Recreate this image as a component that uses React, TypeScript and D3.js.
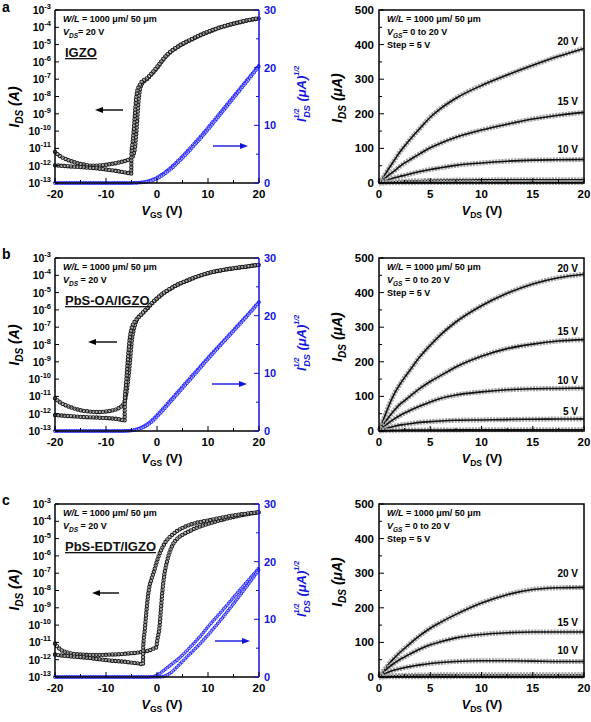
import React from "react";
import * as d3 from "d3";

const FONT = "'Liberation Sans', Arial, Helvetica, sans-serif";
const AXIS_BLUE = "#1414e0";
const MARK_BLUE = "#2a2aff";

// ---------------- Transfer curves: log10(I_DS / A) vs V_GS (V) ----------------
// Panel a (IGZO)
const aUpVgs = [-20,-19,-18,-17,-16,-15,-14,-13,-12,-11,-10,-9,-8,-7,-6,-5,-4.6,-4.3,-4.0,-3.8,-3.6,-3.4,-3.1,-2.8,-2,-1,0,1,2,3,4,5,6,7.5,9,10,12.5,15,17.5,20];
const aUpLogI = [-11.2,-11.45,-11.6,-11.72,-11.82,-11.9,-11.95,-12.0,-12.0,-11.98,-11.95,-11.9,-11.85,-11.78,-11.7,-11.55,-11.35,-10.9,-9.9,-9.0,-8.2,-7.7,-7.35,-7.2,-7.0,-6.7,-6.35,-5.95,-5.6,-5.35,-5.15,-4.97,-4.82,-4.6,-4.4,-4.28,-4.0,-3.8,-3.62,-3.48];
const aLowVgs = [-20,-18,-16,-14,-12,-10,-8,-7,-6,-5.5,-5.05,-5.0,-4.8,-4.6,-4.45,-4.3,-4.15,-4.0,-3.8,-3.5,-3.2,-3.0,-2,-1,0,1,2,3,4,5,6,7.5,9,10,12.5,15,17.5,20];
const aLowLogI = [-11.98,-12.02,-12.06,-12.1,-12.15,-12.22,-12.3,-12.35,-12.4,-12.43,-12.45,-11.3,-10.7,-10.1,-9.5,-8.9,-8.3,-7.9,-7.6,-7.4,-7.25,-7.15,-6.95,-6.65,-6.3,-5.92,-5.58,-5.33,-5.13,-4.95,-4.8,-4.58,-4.38,-4.26,-3.99,-3.79,-3.61,-3.47];
const aSqrtVgs = [-20,-15,-10,-7,-5,-4,-3,-2,-1,0,1,2,3,4,5,6,7.5,9,10,12.5,15,17.5,20];
const aSqrt1 = [0,0,0,0,0.02,0.05,0.12,0.28,0.55,0.95,1.5,2.15,2.9,3.75,4.65,5.6,7.05,8.55,9.6,12.3,15.0,17.7,20.4];
const aSqrt2 = [0,0,0,0,0.01,0.03,0.08,0.2,0.42,0.78,1.28,1.9,2.62,3.45,4.32,5.25,6.7,8.2,9.25,11.95,14.7,17.45,20.2];

// Panel b (PbS-OA/IGZO)
const bUpVgs = [-20,-19,-18,-17,-16,-15,-14,-13,-12,-11,-10,-9,-8,-7.5,-7,-6.5,-6.2,-5.9,-5.6,-5.3,-5.1,-4.9,-4.6,-4.3,-4,-3,-2,-1,0,1,2,3,4,5,6,7.5,9,10,12.5,15,17.5,20];
const bUpLogI = [-11.1,-11.35,-11.5,-11.62,-11.72,-11.8,-11.85,-11.88,-11.9,-11.9,-11.87,-11.82,-11.75,-11.68,-11.58,-11.4,-11.15,-10.6,-9.9,-9.0,-8.3,-7.7,-7.2,-6.85,-6.6,-6.25,-5.95,-5.63,-5.35,-5.1,-4.9,-4.72,-4.55,-4.42,-4.3,-4.12,-3.97,-3.88,-3.72,-3.6,-3.5,-3.4];
const bLowVgs = [-20,-18,-16,-14,-12,-10,-8,-7,-6.6,-6.35,-6.3,-6.1,-5.9,-5.7,-5.5,-5.3,-5.1,-4.8,-4.4,-4,-3,-2,-1,0,1,2,3,4,5,6,7.5,9,10,12.5,15,17.5,20];
const bLowLogI = [-12.08,-12.12,-12.16,-12.2,-12.22,-12.25,-12.3,-12.35,-12.38,-12.4,-11.1,-10.4,-9.6,-8.8,-8.1,-7.55,-7.2,-6.9,-6.7,-6.55,-6.22,-5.92,-5.6,-5.33,-5.08,-4.88,-4.7,-4.54,-4.41,-4.29,-4.11,-3.96,-3.87,-3.71,-3.59,-3.49,-3.39];
const bSqrtVgs = [-20,-10,-7,-6,-5,-4,-3,-2,-1,0,1,2,3,4,5,6,7.5,9,10,12.5,15,17.5,20];
const bSqrt1 = [0,0,0,0.03,0.1,0.3,0.65,1.15,1.85,2.75,3.7,4.7,5.7,6.7,7.7,8.7,10.2,11.7,12.7,15.1,17.5,19.9,22.4];
const bSqrt2 = [0,0,0,0.02,0.07,0.22,0.5,0.95,1.6,2.45,3.4,4.4,5.4,6.4,7.4,8.4,9.9,11.45,12.45,14.9,17.3,19.75,22.3];

// Panel c (PbS-EDT/IGZO)
const cUpVgs = [-20,-19,-18,-17,-16,-15,-13,-11,-9,-7,-5,-4,-3,-2,-1,-0.5,-0.2,0.1,0.45,0.72,1.04,1.43,1.9,2.4,3,4,5,6.5,8,10,12.5,15,17.5,20];
const cUpLogI = [-11.07,-11.4,-11.55,-11.63,-11.68,-11.7,-11.72,-11.72,-11.7,-11.68,-11.62,-11.6,-11.55,-11.5,-11.4,-11.33,-11.3,-10.8,-10.2,-9.3,-8.1,-7.1,-6.4,-5.85,-5.4,-5.0,-4.78,-4.55,-4.35,-4.15,-3.93,-3.75,-3.6,-3.48];
const cLowVgs = [-20,-19,-18,-16,-14,-12,-10,-8,-6,-5,-4,-3.2,-2.75,-2.7,-2.4,-2.1,-1.8,-1.5,-1.1,-0.6,-0.1,0.4,1,1.9,3,4,5,6.5,8,10,12.5,15,17.5,20];
const cLowLogI = [-11.7,-11.75,-11.78,-11.83,-11.88,-11.95,-12.02,-12.08,-12.13,-12.17,-12.2,-12.25,-12.28,-11.3,-10.3,-9.3,-8.4,-7.8,-7.35,-6.9,-6.4,-5.95,-5.55,-5.1,-4.78,-4.55,-4.38,-4.2,-4.07,-3.95,-3.8,-3.66,-3.56,-3.47];
const cSqrtVgs = [-20,-5,-2,-1,0,1,2,3,4,5,6,7.5,9,10,12.5,15,17.5,20];
const cSqrt1 = [0,0,0,0.05,0.3,0.9,1.6,2.3,3.0,3.8,4.7,6.1,7.6,8.7,11.2,13.8,16.35,18.9];
const cSqrt2 = [0,0,0,0,0,0.05,0.35,0.95,1.8,2.7,3.6,4.9,6.3,7.3,9.9,12.7,15.6,18.6];

// ---------------- Output curves: I_DS (uA) vs V_DS (V), V_GS = 20, 15, 10, 5, 0 V ----------------
const vdsGrid = [0,0.5,1,1.5,2,2.5,3,4,5,6,7.5,10,12.5,15,17.5,20];
const aOut20 = [0,20,44,66,88,107,125,158,190,215,245,282,312,340,366,389];
const aOut15 = [0,11,24,35,47,58,67,85,102,115,132,153,170,185,196,204];
const aOut10 = [0,5,10,15,19,22,26,33,39,44,51,58,63,66,67,68];
const aOut5 = [0,1.5,2.5,3.5,4.5,5.2,5.8,6.7,7.4,7.9,8.4,8.9,9.2,9.4,9.5,9.6];
const aOut0 = [0,0.3,0.5,0.7,0.8,0.9,1,1.1,1.2,1.2,1.3,1.3,1.4,1.4,1.4,1.5];
const bOut20 = [0,38,76,108,133,155,175,215,248,278,315,362,398,425,443,453];
const bOut15 = [0,21,42,60,76,88,100,123,143,160,185,216,238,251,260,264];
const bOut10 = [0,13,25,35,44,52,59,72,84,94,104,113,119,122,123,124];
const bOut5 = [0,5,10,14,17,19,21,25,27,29,31,32,33,34,34.5,35];
const bOut0 = [0,0.8,1.5,2,2.3,2.5,2.7,2.9,3,3.1,3.2,3.3,3.3,3.4,3.4,3.5];
const cOut20 = [0,20,39,55,70,83,96,120,141,158,181,214,238,253,258,259];
const cOut15 = [0,15,29,40,50,58,66,81,93,102,113,123,128,130,130,130];
const cOut10 = [0,8,15,20,24,27,30,35,39,42,45,47,47,46,45,45];
const cOut5 = [0,1.5,3,3.8,4.4,4.8,5.2,5.6,6,6.2,6.3,6.4,6.4,6.4,6.4,6.4];
const cOut0 = [0,0.3,0.5,0.6,0.7,0.8,0.9,1,1,1,1.1,1.1,1.1,1.1,1.1,1.1];

// gate-voltage labels and the current (uA) at which each label sits
const aGateLabels = ["20 V", "15 V", "10 V"];
const aGateAt = [399, 225, 87];
const bGateLabels = ["20 V", "15 V", "10 V", "5 V"];
const bGateAt = [460, 277, 136, 46];
const cGateLabels = ["20 V", "15 V", "10 V"];
const cGateAt = [289, 147, 66];

// ticks
const logExponents = [-13,-12,-11,-10,-9,-8,-7,-6,-5,-4,-3];
const sqrtTicks = [0, 10, 20, 30];
const sqrtMinor = [5, 15, 25];
const vgsTicks = [-20, -10, 0, 10, 20];
const vgsMinor = [-15, -5, 5, 15];
const idsTicks = [0, 100, 200, 300, 400, 500];
const idsMinor = [50, 150, 250, 350, 450];
const vdsTicks = [0, 5, 10, 15, 20];
const vdsMinor = [2.5, 7.5, 12.5, 17.5];

const panelLetters = ["a", "b", "c"];
const materials = ["IGZO", "PbS-OA/IGZO", "PbS-EDT/IGZO"];

type Pt = [number, number];
const pairs = (xs: number[], ys: number[]): Pt[] =>
  d3.range(Math.min(xs.length, ys.length)).map((i) => [xs[i], ys[i]] as Pt);

// ---------------- layout ----------------
const PH = 173;
const TOPS = [10, 258, 504];
const LX0 = 55, LX1 = 259;
const RX0 = 379, RX1 = 584;

const transferCfg = [
  {
    log: [pairs(aUpVgs, aUpLogI), pairs(aLowVgs, aLowLogI)],
    sqrt: [pairs(aSqrtVgs, aSqrt1), pairs(aSqrtVgs, aSqrt2)],
    vdsEq: "= 20 V", yTitle: 97, bTitle: 84, blackArrow: [123, 95, 100], blueArrow: [213, 248, 136],
  },
  {
    log: [pairs(bUpVgs, bUpLogI), pairs(bLowVgs, bLowLogI)],
    sqrt: [pairs(bSqrtVgs, bSqrt1), pairs(bSqrtVgs, bSqrt2)],
    vdsEq: " = 20 V", yTitle: 87, bTitle: 85, blackArrow: [117, 88, 84], blueArrow: [212, 247, 126],
  },
  {
    log: [pairs(cUpVgs, cUpLogI), pairs(cLowVgs, cLowLogI)],
    sqrt: [pairs(cSqrtVgs, cSqrt1), pairs(cSqrtVgs, cSqrt2)],
    vdsEq: " = 20 V", yTitle: 86, bTitle: 85, blackArrow: [119, 92, 89], blueArrow: [215, 250, 137],
  },
];

const outputCfg = [
  { curves: [aOut20, aOut15, aOut10, aOut5, aOut0], labels: aGateLabels, at: aGateAt, vgsEq: "= 0 to 20 V", yTitle: 88 },
  { curves: [bOut20, bOut15, bOut10, bOut5, bOut0], labels: bGateLabels, at: bGateAt, vgsEq: " = 0 to 20 V", yTitle: 79 },
  { curves: [cOut20, cOut15, cOut10, cOut5, cOut0], labels: cGateLabels, at: cGateAt, vgsEq: " = 0 to 20 V", yTitle: 78 },
];

function RingCurve({ d, color, lineColor, outer, inner, gap, lineW }: any) {
  return (
    <g fill="none">
      <path d={d} stroke={color} strokeWidth={outer} strokeDasharray={`0 ${gap}`} strokeLinecap="round" />
      <path d={d} stroke="#ffffff" strokeWidth={inner} strokeDasharray={`0 ${gap}`} strokeLinecap="round" />
      <path d={d} stroke={lineColor} strokeWidth={lineW} />
    </g>
  );
}

function Arrow({ x1, x2, y, color }: any) {
  const dir = x2 > x1 ? 1 : -1;
  const hx = x2;
  return (
    <g>
      <line x1={x1} y1={y} x2={x2 - dir * 5} y2={y} stroke={color} strokeWidth={1.4} />
      <path d={`M${hx},${y} L${hx - dir * 8},${y - 3} L${hx - dir * 8},${y + 3} Z`} fill={color} />
    </g>
  );
}

function TransferPanel({ idx }: { idx: number }) {
  const cfg = transferCfg[idx];
  const top = TOPS[idx];
  const bottom = top + PH;
  const x = d3.scaleLinear().domain([-20, 20]).range([LX0, LX1]);
  const yL = d3.scaleLog().domain([1e-13, 1e-3]).range([bottom, top]);
  const yR = d3.scaleLinear().domain([0, 30]).range([bottom, top]);
  const logLine = d3.line<Pt>().x((p) => x(p[0])).y((p) => yL(Math.pow(10, p[1]))).curve(d3.curveMonotoneX);
  const sqLine = d3.line<Pt>().x((p) => x(p[0])).y((p) => yR(p[1])).curve(d3.curveMonotoneX);
  const ba = cfg.blackArrow, ua = cfg.blueArrow;

  return (
    <g fontFamily={FONT} fontWeight="bold">
      {/* blue sqrt curves */}
      {cfg.sqrt.map((s, i) => (
        <RingCurve key={"s" + i} d={sqLine(s)} color={MARK_BLUE} lineColor={MARK_BLUE} outer={3.6} inner={1.7} gap={2.4} lineW={0.6} />
      ))}
      {/* black log curves */}
      {cfg.log.map((s, i) => (
        <RingCurve key={"l" + i} d={logLine(s)} color="#1e1e1e" lineColor="#2a2a2a" outer={4.4} inner={2.2} gap={3.2} lineW={0.7} />
      ))}

      {/* frame */}
      <line x1={LX0} y1={top} x2={LX1} y2={top} stroke="#000" strokeWidth={1.5} />
      <line x1={LX0} y1={bottom} x2={LX1} y2={bottom} stroke="#000" strokeWidth={1.5} />
      <line x1={LX0} y1={top} x2={LX0} y2={bottom} stroke="#000" strokeWidth={1.5} />
      <line x1={LX1} y1={top} x2={LX1} y2={bottom} stroke={AXIS_BLUE} strokeWidth={1.5} />

      {/* left log axis */}
      {logExponents.map((e) => (
        <g key={"le" + e}>
          <line x1={LX0} x2={LX0 + 4} y1={yL(Math.pow(10, e))} y2={yL(Math.pow(10, e))} stroke="#000" strokeWidth={1} />
          <text x={51} y={yL(Math.pow(10, e)) + 4} textAnchor="end" fontSize={10.5} fill="#000">
            10<tspan dy={-5} fontSize={7.5}>{e}</tspan>
          </text>
        </g>
      ))}
      {/* bottom axis */}
      {vgsTicks.map((t) => (
        <g key={"vt" + t}>
          <line x1={x(t)} x2={x(t)} y1={bottom} y2={bottom - 5} stroke="#000" strokeWidth={1} />
          <text x={x(t)} y={bottom + 15} textAnchor="middle" fontSize={11.5} fill="#000">{t}</text>
        </g>
      ))}
      {vgsMinor.map((t) => (
        <line key={"vm" + t} x1={x(t)} x2={x(t)} y1={bottom} y2={bottom - 3} stroke="#000" strokeWidth={1} />
      ))}
      {/* right sqrt axis */}
      {sqrtTicks.map((t) => (
        <g key={"st" + t}>
          <line x1={LX1} x2={LX1 - 5} y1={yR(t)} y2={yR(t)} stroke={AXIS_BLUE} strokeWidth={1} />
          <text x={264} y={yR(t) + 4} fontSize={11} fill={AXIS_BLUE}>{t}</text>
        </g>
      ))}
      {sqrtMinor.map((t) => (
        <line key={"sm" + t} x1={LX1} x2={LX1 - 3} y1={yR(t)} y2={yR(t)} stroke={AXIS_BLUE} strokeWidth={1} />
      ))}

      {/* axis titles */}
      <text transform={`translate(19,${top + cfg.yTitle}) rotate(-90)`} textAnchor="middle" fontSize={14} fontStyle="italic" fill="#000">
        I<tspan dy={4} fontSize={10}>DS</tspan><tspan dy={-4}> (A)</tspan>
      </text>
      <text transform={`translate(306,${top + cfg.bTitle}) rotate(-90)`} textAnchor="middle" fontSize={13} fontStyle="italic" fill={AXIS_BLUE}>
        I<tspan dy={-7} fontSize={7}>1/2</tspan><tspan dx={-9} dy={11} fontSize={9}>DS</tspan>
        <tspan dy={-4}> (</tspan><tspan>μ</tspan><tspan>A)</tspan><tspan dy={-7} fontSize={7}>1/2</tspan>
      </text>
      <text x={162} y={bottom + 32} textAnchor="middle" fontSize={12.5} fill="#000">
        <tspan fontStyle="italic">V</tspan><tspan dy={3} fontSize={8.5}>GS</tspan><tspan dy={-3}> (V)</tspan>
      </text>

      {/* annotations */}
      <text x={63} y={top + 12} fontSize={9} fill="#000">
        <tspan fontStyle="italic">W/L</tspan> = 1000 μm/ 50 μm
      </text>
      <text x={63} y={top + 25} fontSize={9} fill="#000">
        <tspan fontStyle="italic">V</tspan><tspan dy={2.5} fontSize={6.5} fontStyle="italic">DS</tspan><tspan dy={-2.5}>{cfg.vdsEq}</tspan>
      </text>
      <text x={65} y={top + 47} fontSize={13} fill="#111" textDecoration="underline">{materials[idx]}</text>

      <Arrow x1={ba[0]} x2={ba[1]} y={top + ba[2]} color="#000" />
      <Arrow x1={ua[0]} x2={ua[1]} y={top + ua[2]} color={AXIS_BLUE} />

      <text x={2} y={Math.max(top + 1, 12)} fontSize={14} fill="#000">{panelLetters[idx]}</text>
    </g>
  );
}

function OutputPanel({ idx }: { idx: number }) {
  const cfg = outputCfg[idx];
  const top = TOPS[idx];
  const bottom = top + PH;
  const x = d3.scaleLinear().domain([0, 20]).range([RX0, RX1]);
  const y = d3.scaleLinear().domain([0, 500]).range([bottom, top]);
  const line = d3.line<Pt>().x((p) => x(p[0])).y((p) => y(p[1])).curve(d3.curveMonotoneX);

  return (
    <g fontFamily={FONT} fontWeight="bold">
      {cfg.curves.map((c, i) => {
        const d = line(pairs(vdsGrid, c)) || "";
        return (
          <g key={"c" + i} fill="none">
            <path d={d} stroke="#a3a3a3" strokeWidth={5} strokeDasharray="2.2 1" />
            <path d={d} stroke="#111" strokeWidth={1.6} />
          </g>
        );
      })}

      <rect x={RX0} y={top} width={RX1 - RX0} height={PH} fill="none" stroke="#000" strokeWidth={1.5} />

      {idsTicks.map((t) => (
        <g key={"it" + t}>
          <line x1={RX0} x2={RX0 + 5} y1={y(t)} y2={y(t)} stroke="#000" strokeWidth={1} />
          <text x={374} y={y(t) + 4} textAnchor="end" fontSize={11.5} fill="#000">{t}</text>
        </g>
      ))}
      {idsMinor.map((t) => (
        <line key={"im" + t} x1={RX0} x2={RX0 + 3} y1={y(t)} y2={y(t)} stroke="#000" strokeWidth={1} />
      ))}
      {vdsTicks.map((t) => (
        <g key={"dt" + t}>
          <line x1={x(t)} x2={x(t)} y1={bottom} y2={bottom - 5} stroke="#000" strokeWidth={1} />
          <text x={x(t)} y={bottom + 15} textAnchor="middle" fontSize={11.5} fill="#000">{t}</text>
        </g>
      ))}
      {vdsMinor.map((t) => (
        <line key={"dm" + t} x1={x(t)} x2={x(t)} y1={bottom} y2={bottom - 3} stroke="#000" strokeWidth={1} />
      ))}

      <text transform={`translate(342,${top + cfg.yTitle}) rotate(-90)`} textAnchor="middle" fontSize={14} fontStyle="italic" fill="#000">
        I<tspan dy={4} fontSize={10}>DS</tspan><tspan dy={-4}> (μA)</tspan>
      </text>
      <text x={482} y={bottom + 32} textAnchor="middle" fontSize={12.5} fill="#000">
        <tspan fontStyle="italic">V</tspan><tspan dy={3} fontSize={8.5}>DS</tspan><tspan dy={-3}> (V)</tspan>
      </text>

      <text x={387} y={top + 12} fontSize={9} fill="#000">
        <tspan fontStyle="italic">W/L</tspan> = 1000 μm/ 50 μm
      </text>
      <text x={387} y={top + 25} fontSize={9} fill="#000">
        <tspan fontStyle="italic">V</tspan><tspan dy={2.5} fontSize={6.5} fontStyle="italic">GS</tspan><tspan dy={-2.5}>{cfg.vgsEq}</tspan>
      </text>
      <text x={387} y={top + 38} fontSize={9} fill="#000">Step = 5 V</text>

      {cfg.labels.map((lab, i) => (
        <text key={lab} x={578} y={y(cfg.at[i])} textAnchor="end" fontSize={10} fill="#000">{lab}</text>
      ))}
    </g>
  );
}

export default function App() {
  return (
    <svg width={591} height={722} viewBox="0 0 591 722"
      style={{ position: "absolute", left: 0, top: 0, background: "#fff", display: "block" }}>
      <rect x={0} y={0} width={591} height={722} fill="#fff" />
      {[0, 1, 2].map((i) => (
        <g key={i}>
          <TransferPanel idx={i} />
          <OutputPanel idx={i} />
        </g>
      ))}
    </svg>
  );
}
